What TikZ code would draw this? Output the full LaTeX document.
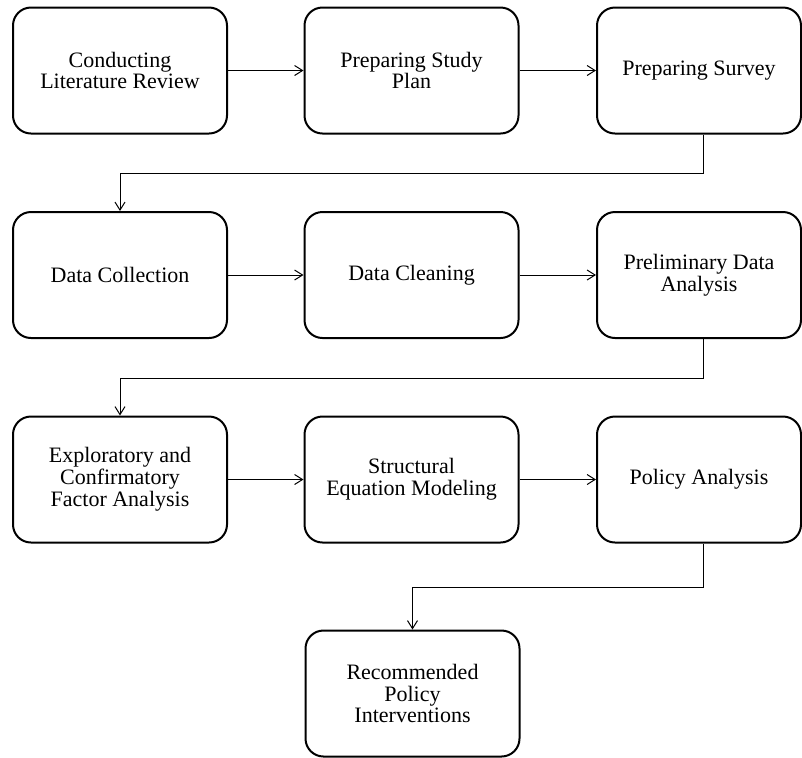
\documentclass[tikz,border=0pt]{standalone}
\usepackage{fontspec}
\setmainfont{Liberation Serif}
\usepackage{tikz}
\usetikzlibrary{arrows.meta,positioning,calc}

\begin{document}
\begin{tikzpicture}[x=0.5pt, y=-0.5pt,
    stage/.style={rectangle, rounded corners=9pt, draw=black, line width=1pt,
        minimum width=107pt, minimum height=63pt, inner sep=2pt, align=center,
        font=\fontsize{11}{10.9}\selectfont},
    arr/.style={-{Straight Barb[length=4pt, width=5pt]}, line width=0.5pt, black}]

    \useasboundingbox (0,0) rectangle (802,757);

    % Row 1
    \node[stage] (review) at (120,70.5) {Conducting\\Literature Review};
    \node[stage] (plan) at (411.5,70.5) {Preparing Study\\Plan};
    \node[stage, minimum width=102pt] (survey) at (699,70.5) {Preparing Survey};

    % Row 2
    \node[stage] (collect) at (120,275) {Data Collection};
    \node[stage] (clean) at (411.5,275) {Data Cleaning};
    \node[stage, minimum width=102pt] (prelim) at (699,275) {Preliminary Data\\Analysis};

    % Row 3
    \node[stage] (efa) at (120,479.5) {Exploratory and\\Confirmatory\\Factor Analysis};
    \node[stage] (sem) at (411.5,479.5) {Structural\\Equation Modeling};
    \node[stage, minimum width=102pt] (policy) at (699,479.5) {Policy Analysis};

    % Row 4
    \node[stage] (recom) at (412.5,693.5) {Recommended\\Policy\\Interventions};

    % Connections
    \draw[arr] (review) -- (plan);
    \draw[arr] (plan) -- (survey);
    \draw[arr] ([xshift=2pt]survey.south) -- ++(0,39) -| (collect.north);
    \draw[arr] (collect) -- (clean);
    \draw[arr] (clean) -- (prelim);
    \draw[arr] ([xshift=2pt]prelim.south) -- ++(0,39) -| (efa.north);
    \draw[arr] (efa) -- (sem);
    \draw[arr] (sem) -- (policy);
    \draw[arr] ([xshift=2pt]policy.south) -- ++(0,44) -| (recom.north);
\end{tikzpicture}
\end{document}
